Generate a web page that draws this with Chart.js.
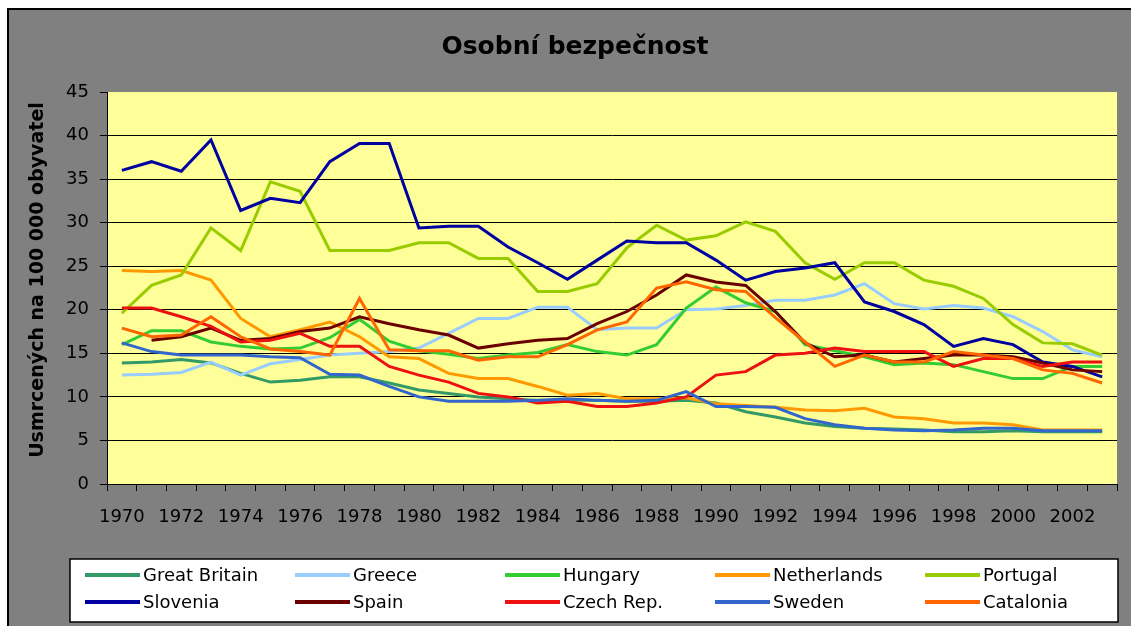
<!DOCTYPE html>
<html>
<head>
<meta charset="utf-8">
<title>Osobní bezpečnost</title>
<script src="https://cdn.jsdelivr.net/npm/chart.js"></script>
<style>
  html, body { margin: 0; padding: 0; background: #fff; }
  #wrap { width: 1131px; height: 626px; }
</style>
</head>
<body>
<div id="wrap"><canvas id="mycanvas" width="1131" height="626"></canvas></div>
<script>
// years on the x axis
var years = ['1970','1971','1972','1973','1974','1975','1976','1977','1978','1979',
             '1980','1981','1982','1983','1984','1985','1986','1987','1988','1989',
             '1990','1991','1992','1993','1994','1995','1996','1997','1998','1999',
             '2000','2001','2002','2003'];

// killed per 100 000 inhabitants
var greatBritain = [13.9,14.0,14.3,13.9,12.7,11.7,11.9,12.3,12.3,11.6, 10.8,10.4,10.0,9.8,9.6,9.6,9.6,9.5,9.5,9.6, 9.3,8.3,7.7,7.0,6.6,6.4,6.3,6.2,6.0,6.0, 6.1,6.0,6.0,6.0];
var greece       = [12.5,12.6,12.8,14.0,12.5,13.8,14.3,14.8,15.0,15.2, 15.6,17.3,19.0,19.0,20.3,20.3,17.7,17.9,17.9,20.0, 20.1,20.5,21.1,21.1,21.7,23.0,20.7,20.1,20.5,20.2, 19.2,17.5,15.4,14.6];
var hungary      = [16.0,17.6,17.6,16.3,15.8,15.5,15.6,16.8,18.9,16.4, 15.3,14.9,14.4,14.8,15.1,16.0,15.2,14.8,16.0,20.2, 22.6,20.8,19.8,16.0,15.3,14.6,13.7,13.9,13.7,12.9, 12.1,12.1,13.5,13.5];
var netherlands  = [24.5,24.4,24.5,23.4,19.0,16.9,17.7,18.6,16.9,14.6, 14.4,12.7,12.1,12.1,11.2,10.2,10.4,9.8,9.8,9.9, 9.2,9.0,8.8,8.5,8.4,8.7,7.7,7.5,7.0,7.0, 6.8,6.2,6.2,6.2];
var portugal     = [19.6,22.8,24.0,29.4,26.8,34.7,33.6,26.8,26.8,26.8, 27.7,27.7,25.9,25.9,22.1,22.1,23.0,27.1,29.7,28.0, 28.5,30.1,29.0,25.4,23.5,25.4,25.4,23.4,22.7,21.3, 18.3,16.2,16.1,14.8];
var slovenia     = [36.0,37.0,35.9,39.5,31.4,32.8,32.3,37.0,39.1,39.1, 29.4,29.6,29.6,27.2,25.4,23.5,25.7,27.9,27.7,27.7, 25.7,23.4,24.4,24.8,25.4,20.9,19.8,18.3,15.8,16.7, 16.0,14.0,13.5,12.3];
var spain        = [null,16.5,16.9,17.9,16.5,16.7,17.5,17.9,19.2,18.4, 17.7,17.1,15.6,16.1,16.5,16.7,18.4,19.8,21.7,24.0, 23.2,22.8,19.8,16.2,14.6,14.8,14.0,14.4,14.8,14.8, 14.6,13.9,13.1,12.9];
var czechRep     = [20.2,20.2,19.2,18.1,16.3,16.5,17.3,15.8,15.8,13.5, 12.5,11.7,10.4,10.0,9.3,9.5,8.9,8.9,9.3,10.0, 12.5,12.9,14.8,15.0,15.6,15.2,15.2,15.2,13.5,14.4, 14.4,13.5,14.0,14.0];
var sweden       = [16.2,15.2,14.8,14.8,14.8,14.6,14.5,12.6,12.5,11.2, 10.0,9.5,9.5,9.5,9.6,9.8,9.6,9.5,9.6,10.6, 8.9,8.9,8.8,7.5,6.8,6.4,6.2,6.1,6.2,6.4, 6.4,6.1,6.1,6.1];
var catalonia    = [17.9,16.9,17.1,19.2,16.9,15.5,15.2,14.8,21.3,15.4, 15.3,15.3,14.2,14.6,14.6,16.0,17.7,18.6,22.5,23.2, 22.3,22.1,19.1,16.3,13.5,14.8,14.0,14.0,15.2,14.8, 14.4,13.1,12.7,11.6];

var seriesNames = ['Great Britain','Greece','Hungary','Netherlands','Portugal',
                   'Slovenia','Spain','Czech Rep.','Sweden','Catalonia'];
var seriesData = [greatBritain, greece, hungary, netherlands, portugal,
                  slovenia, spain, czechRep, sweden, catalonia];
var seriesColors = ['#339966','#99CCFF','#33CC33','#FF9900','#99CC00',
                    '#0000A0','#6B0000','#EE1111','#3366CC','#FF6600'];

var chartTitle = 'Osobní bezpečnost';
var yTitle = 'Usmrcených na 100 000 obyvatel';
var yTicksMax = 45;
var yTicksStep = 5;

Chart.defaults.font.family = "'DejaVu Sans', sans-serif";
Chart.defaults.color = '#000';

// gray frame, yellow plot area, titles
var backdrop = {
	id: 'backdrop',
	beforeDraw: function(chart) {
		var ctx = chart.ctx, a = chart.chartArea;
		ctx.save();
		ctx.fillStyle = '#fff';
		ctx.fillRect(0, 0, chart.width, chart.height);
		ctx.fillStyle = '#808080';
		ctx.fillRect(7, 8, chart.width - 7, chart.height - 8);
		ctx.strokeStyle = '#000';
		ctx.lineWidth = 2;
		ctx.beginPath();
		ctx.moveTo(8, chart.height);
		ctx.lineTo(8, 9);
		ctx.lineTo(chart.width, 9);
		ctx.stroke();
		ctx.fillStyle = '#FFFF99';
		ctx.fillRect(a.left, a.top, a.right - a.left, a.bottom - a.top);

		ctx.fillStyle = '#000';
		ctx.textAlign = 'center';
		ctx.textBaseline = 'middle';
		ctx.font = "bold 25px 'DejaVu Sans', sans-serif";
		ctx.fillText(chartTitle, 575, 47);

		ctx.translate(38, 280);
		ctx.rotate(-Math.PI / 2);
		ctx.font = "bold 19px 'DejaVu Sans', sans-serif";
		ctx.fillText(yTitle, 0, 0);
		ctx.restore();
	}
};

// legend in a white box, five columns
var boxLegend = {
	id: 'boxLegend',
	afterDraw: function(chart) {
		var ctx = chart.ctx;
		ctx.save();
		ctx.fillStyle = '#fff';
		ctx.fillRect(70, 559, 1048, 63);
		ctx.strokeStyle = '#000';
		ctx.lineWidth = 1.5;
		ctx.strokeRect(70, 559, 1048, 63);
		ctx.font = "18px 'DejaVu Sans', sans-serif";
		ctx.textBaseline = 'middle';
		ctx.textAlign = 'left';
		chart.data.datasets.forEach(function(ds, i) {
			var x = 85 + (i % 5) * 210;
			var y = 575 + Math.floor(i / 5) * 27;
			ctx.strokeStyle = ds.borderColor;
			ctx.lineWidth = 4;
			ctx.beginPath();
			ctx.moveTo(x, y);
			ctx.lineTo(x + 55, y);
			ctx.stroke();
			ctx.fillStyle = '#000';
			ctx.fillText(ds.label, x + 58, y + 1);
		});
		ctx.restore();
	}
};

var datasets = [];
for (var i in seriesNames) {
	datasets.push({
		label: seriesNames[i],
		data: seriesData[i],
		borderColor: seriesColors[i],
		backgroundColor: seriesColors[i],
		borderWidth: 3,
		pointRadius: 0,
		pointHoverRadius: 0,
		tension: 0,
		fill: false,
		order: seriesNames.length - i
	});
}

var ctx = document.getElementById('mycanvas');

var lineGraph = new Chart(ctx, {
	type: 'line',
	data: {
		labels: years,
		datasets: datasets
	},
	options: {
		responsive: false,
		animation: false,
		events: [],
		layout: { padding: { left: 0, right: 14, top: 92, bottom: 0 } },
		plugins: {
			legend: { display: false },
			tooltip: { enabled: false },
			title: { display: false }
		},
		scales: {
			x: {
				offset: true,
				afterFit: function(scale) { scale.height = 142; },
				grid: {
					offset: true,
					drawOnChartArea: false,
					drawTicks: true,
					tickLength: 7,
					tickColor: '#000'
				},
				border: { color: '#000', width: 1 },
				ticks: {
					autoSkip: false,
					maxRotation: 0,
					padding: 16,
					color: '#000',
					font: { size: 18 },
					callback: function(value, index) {
						return index % 2 === 0 ? this.getLabelForValue(value) : '';
					}
				}
			},
			y: {
				min: 0,
				max: yTicksMax,
				afterFit: function(scale) { scale.width = 107; },
				grid: {
					color: function(c) {
						return (c.tick && c.tick.value === yTicksMax) ? 'rgba(0,0,0,0)' : '#000';
					},
					lineWidth: 1,
					tickLength: 7,
					tickColor: '#000'
				},
				border: { color: '#000', width: 1 },
				ticks: {
					stepSize: yTicksStep,
					padding: 11,
					color: '#000',
					font: { size: 18 }
				}
			}
		}
	},
	plugins: [backdrop, boxLegend]
});
</script>
</body>
</html>
